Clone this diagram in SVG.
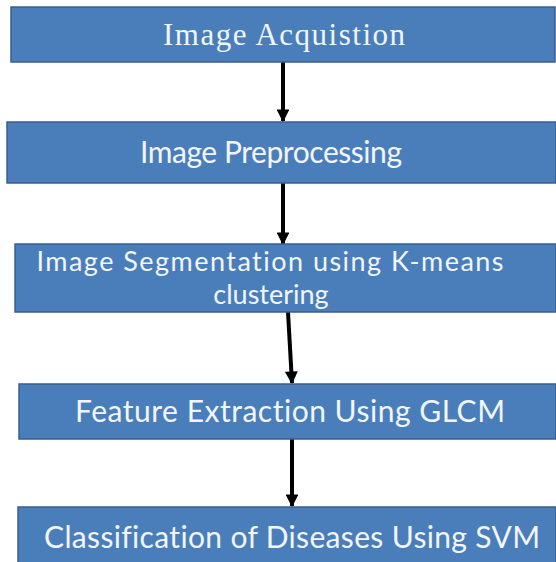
<svg xmlns="http://www.w3.org/2000/svg" width="556" height="562" viewBox="0 0 556 562">
  <style>
    .box { fill: #4a7ebb; stroke: #3a5f8d; stroke-width: 1.5; }
    .lbl { fill: #f2f6fb; text-anchor: middle; font-family: Lato, "Open Sans", sans-serif; font-size: 30px; font-variant-ligatures: none; }
    .two { font-size: 27px; }
    .serif { font-family: "Liberation Serif", "Times New Roman", serif; font-size: 31px; }
    .edge { stroke: #000; stroke-width: 4; fill: none; marker-end: url(#head); }
  </style>
  <defs>
    <marker id="head" viewBox="0 0 10 10" refX="9" refY="5" markerWidth="3.4" markerHeight="3.2" orient="auto" markerUnits="strokeWidth">
      <path d="M0,0 L10,5 L0,10 z" fill="#000"/>
    </marker>
  </defs>
  <rect width="556" height="562" fill="#fff"/>

  <g id="connectors">
    <line class="edge" x1="283" y1="62" x2="283" y2="121"/>
    <line class="edge" x1="283" y1="183" x2="283" y2="244"/>
    <line class="edge" x1="288" y1="312" x2="292" y2="383"/>
    <line class="edge" x1="292" y1="439" x2="292" y2="506"/>
  </g>

  <g id="acquisition">
    <rect class="box" x="11" y="7" width="544" height="55"/>
    <text class="lbl serif" x="284" y="45" textLength="242">Image Acquistion</text>
  </g>
  <g id="preprocessing">
    <rect class="box" x="7" y="122" width="549" height="61"/>
    <text class="lbl" x="271" y="163" textLength="262">Image Preprocessing</text>
  </g>
  <g id="segmentation">
    <rect class="box" x="15" y="244" width="541" height="68"/>
    <text class="lbl two" x="270" y="271" textLength="467">Image Segmentation using K-means</text>
    <text class="lbl two" x="271" y="304">clustering</text>
  </g>
  <g id="features">
    <rect class="box" x="19" y="384" width="537" height="55"/>
    <text class="lbl" x="290" y="422" textLength="430">Feature Extraction Using GLCM</text>
  </g>
  <g id="classification">
    <rect class="box" x="18" y="507" width="538" height="60"/>
    <text class="lbl" x="292" y="548" textLength="496">Classification of Diseases Using SVM</text>
  </g>
</svg>
